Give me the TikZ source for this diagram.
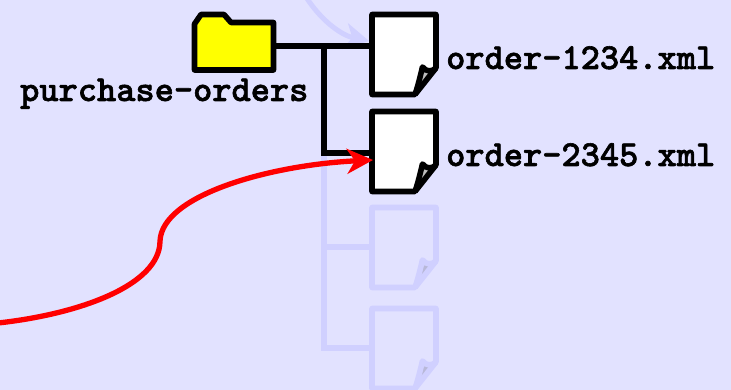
\documentclass[tikz,border=0pt]{standalone}
\usepackage{fontspec}
\newfontfamily\lblfont[BoldFeatures={FakeBold=1.6}]{Latin Modern Mono Light}
\usetikzlibrary{arrows.meta}
\definecolor{bgc}{RGB}{226,226,255}
\definecolor{fadec}{RGB}{208,208,255}
\definecolor{curlg}{RGB}{190,190,190}
\definecolor{fadeg}{RGB}{184,184,216}
\definecolor{fyellow}{RGB}{255,255,0}
\definecolor{fred}{RGB}{255,0,0}
\tikzset{
  lbl/.style={font=\fontsize{36.6}{36.6}\lblfont\bfseries\selectfont, inner sep=0pt, anchor=base west, text=black},
  wire/.style={line width=5.6pt, line join=miter},
}
\newcommand{\docshape}[4]{% y-offset, line colour, curl colour, fill
  \begin{scope}[yshift=-#1pt]
    \fill[#4] (372,-14.5) -- (436,-14.5) -- (436,-68) -- (415,-94.5) -- (372,-94.5) -- cycle;
    \fill[#3] (424,-70) -- (419,-90) -- (433,-72) -- cycle;
    \draw[line width=5.6pt, line join=round, #2] (372,-14.5) -- (436,-14.5) -- (436,-68)
      .. controls (432,-72) and (426,-72) .. (422.5,-67) .. controls (420,-77) and (418,-86) .. (415,-94.5)
      -- (372,-94.5) -- cycle;
    \draw[line width=5.6pt, line join=round, #2] (436,-68) -- (415,-94.5);
  \end{scope}}
\begin{document}
\begin{tikzpicture}[x=1pt,y=1pt]
\useasboundingbox (0,-390) rectangle (731,0);
\fill[bgc] (0,-390) rectangle (731,0);
\begin{scope}
\clip (0,-390) rectangle (731,0);
% faded part
\coordinate (fa) at (303,8);
\coordinate (fb) at (369,-41);
\draw[line width=5pt, fadec, -{Stealth[length=24pt,width=26pt,inset=7pt]}] (fa) .. controls (318,-18) and (340,-35) .. (fb);
\coordinate (ft) at (324,-153);
\coordinate (fm) at (324,-247);
\coordinate (fe) at (324,-348);
\draw[wire, fadec] (ft) -- (fe) -- (372,-348);
\draw[wire, fadec] (fm) -- (372,-247);
\docshape{193}{fadec}{fadeg}{bgc}
\docshape{294}{fadec}{fadeg}{bgc}
% folder tree
\coordinate (bj) at (324,-46);
\coordinate (bc) at (324,-153);
\draw[wire] (276,-46) -- (372,-46);
\draw[wire] (bj) -- (bc) -- (372,-153);
\draw[line width=5.6pt, line join=round, fill=fyellow] (194.5,-70) -- (194.5,-24) -- (201,-14.5) -- (224,-14.5) -- (231,-22.5) -- (273.5,-22.5) -- (273.5,-70) -- cycle;
\docshape{0}{black}{curlg}{white}
\docshape{97}{black}{curlg}{white}
% labels
\node[lbl] (pl) at (20,-101) {purchase-orders};
\node[lbl] (o1) at (446,-69) {order-1234.xml};
\node[lbl] (o2) at (446,-166) {order-2345.xml};
% red arrow
\coordinate (ra) at (-2,-323);
\coordinate (rb) at (160,-241);
\coordinate (rc) at (373,-160);
\draw[line width=5.3pt, fred, -{Stealth[length=26pt,width=25pt,inset=8pt]}] (ra) .. controls (80,-314) and (160,-285) .. (rb) .. controls (162,-195) and (270,-165) .. (rc);
\end{scope}
\end{tikzpicture}
\end{document}
